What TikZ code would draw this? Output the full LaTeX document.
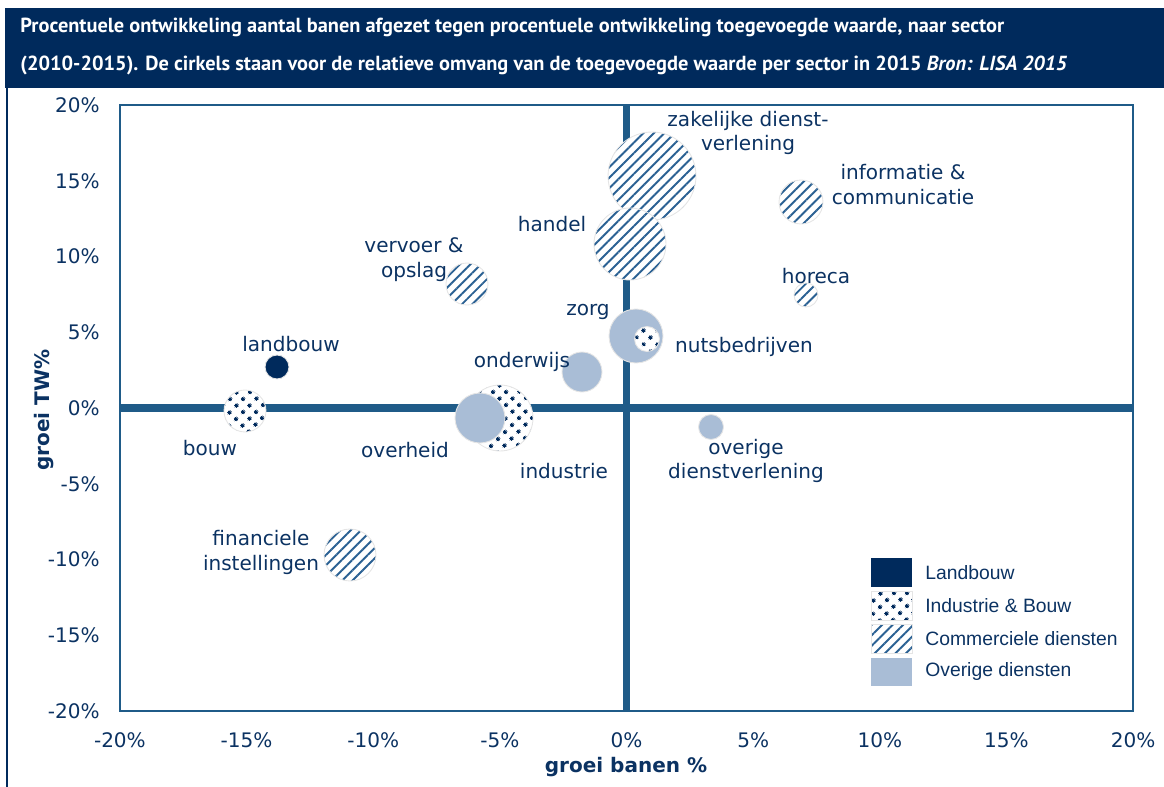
\documentclass[tikz,border=0pt]{standalone}
\usepackage{fontspec}
\setmainfont{DejaVu Sans}
\newfontfamily\titlefont{PT Sans}
\newfontfamily\legendfont{Liberation Sans}
\usetikzlibrary{patterns.meta}

\definecolor{navy}{HTML}{002A5C}
\definecolor{txtblue}{HTML}{0B3262}
\definecolor{axisblue}{HTML}{1F5B88}
\definecolor{lightblue}{HTML}{A9BDD6}
\definecolor{stripeblue}{HTML}{2B6193}

\tikzset{
  bubble/.style={circle, draw=black!10, line width=0.5pt, inner sep=0pt},
  landb/.style={bubble, fill=navy},
  indus/.style={bubble, preaction={fill=white}, pattern={Dots[angle=45, distance=5.4pt, radius=1.25pt]}, pattern color=navy},
  comm/.style={bubble, preaction={fill=white}, pattern={Lines[angle=45, distance=4.2pt, line width=1.1pt]}, pattern color=stripeblue},
  overig/.style={bubble, fill=lightblue},
  lbl/.style={text=txtblue, align=center, inner sep=0pt, font=\fontsize{11.4}{14.2}\selectfont},
  tick/.style={text=txtblue, inner sep=0pt, font=\fontsize{11.4}{14}\selectfont},
  axlbl/.style={text=txtblue, inner sep=0pt, font=\fontsize{11.4}{14}\selectfont\bfseries},
  key/.style={minimum width=0.82cm, minimum height=0.58cm, inner sep=0pt},
  keytxt/.style={text=txtblue, anchor=west, inner sep=0pt, font=\legendfont\fontsize{11}{13}\selectfont},
  ttl/.style={text=white, anchor=west, inner sep=0pt, font=\titlefont\fontsize{11.6}{13}\selectfont\bfseries}
}

\begin{document}
\begin{tikzpicture}[x=0.02cm, y=-0.02cm]
\useasboundingbox (0,0) rectangle (1164,787);

% title bar
\fill[navy] (5,8) rectangle (1164,88);
\draw[navy, line width=1.5pt] (7,86) -- (7,787);
\node[ttl] (title1) at (20,27) {Procentuele ontwikkeling aantal banen afgezet tegen procentuele ontwikkeling toegevoegde waarde, naar sector};
\node[ttl] (title2) at (20,65) {(2010-2015). De cirkels staan voor de relatieve omvang van de toegevoegde waarde per sector in 2015 \textit{Bron: LISA 2015}};

% frame and zero lines
\draw[axisblue, line width=1.1pt] (120,105) rectangle (1133,711);
\draw[axisblue, line width=4pt] (120,408) -- (1133,408);
\draw[axisblue, line width=4pt] (626.5,105) -- (626.5,711);

% ticks
\foreach \v [count=\i] in {-20,-15,...,20} {
  \node[tick] (xt\i) at ({626.5+\v*25.33},740) {\v\%};
  \node[tick, anchor=east] (yt\i) at (100,{408-\v*15.15}) {\v\%};
}
\node[axlbl] (xlab) at (626,767) {groei banen \%};
\node[axlbl, rotate=90] (ylab) at (44,410) {groei TW\%};

% bubbles
\node[comm, minimum size=1.76cm] (zak) at (652,176) {};
\node[comm, minimum size=1.44cm] (handel) at (630,244) {};
\node[comm, minimum size=0.88cm] (info) at (801,202) {};
\node[comm, minimum size=0.48cm] (horeca) at (806,295) {};
\node[comm, minimum size=0.84cm] (vervoer) at (467,284) {};
\node[overig, minimum size=1.08cm] (zorg) at (636,336) {};
\node[indus, minimum size=0.5cm] (nuts) at (647,339) {};
\node[overig, minimum size=0.8cm] (onderwijs) at (582,372) {};
\node[landb, minimum size=0.48cm] (landbouw) at (277,367) {};
\node[indus, minimum size=0.84cm] (bouw) at (245,411) {};
\node[indus, minimum size=1.32cm] (industrie) at (500,418) {};
\node[overig, minimum size=1.0cm] (overheid) at (480,418) {};
\node[overig, minimum size=0.5cm] (overige) at (711,427) {};
\node[comm, minimum size=1.04cm] (financ) at (350,555) {};

% sector labels
\node[lbl] (zak-l) at (748,133) {zakelijke dienst-\\verlening};
\node[lbl] (info-l) at (903,185) {informatie \&\\communicatie};
\node[lbl] (handel-l) at (552,224) {handel};
\node[lbl] (vervoer-l) at (414,260) {vervoer \&\\opslag};
\node[lbl] (horeca-l) at (816,276) {horeca};
\node[lbl] (zorg-l) at (588,312) {zorg};
\node[lbl] (nuts-l) at (744,347) {nutsbedrijven};
\node[lbl] (landbouw-l) at (291,344) {landbouw};
\node[lbl] (onderwijs-l) at (522,362) {onderwijs};
\node[lbl] (bouw-l) at (210,448) {bouw};
\node[lbl] (overheid-l) at (405,450) {overheid};
\node[lbl] (industrie-l) at (564,471) {industrie};
\node[lbl] (overige-l) at (746,461) {overige\\dienstverlening};
\node[lbl] (financ-l) at (261,552) {financiele\\instellingen};

% legend
\node[key, fill=navy] (k1) at (891.5,572.5) {};
\node[key, draw=black!10, preaction={fill=white}, pattern={Dots[angle=45, distance=5.4pt, radius=1.25pt]}, pattern color=navy] (k2) at (891.5,605.5) {};
\node[key, draw=black!10, preaction={fill=white}, pattern={Lines[angle=45, distance=4.2pt, line width=1.1pt]}, pattern color=stripeblue] (k3) at (891.5,638.5) {};
\node[key, fill=lightblue] (k4) at (891.5,672) {};
\node[keytxt] (k1-t) at (925,572.5) {Landbouw};
\node[keytxt] (k2-t) at (925,605.5) {Industrie \& Bouw};
\node[keytxt] (k3-t) at (925,638.5) {Commerciele diensten};
\node[keytxt] (k4-t) at (925,672) {Overige diensten};
\end{tikzpicture}
\end{document}
